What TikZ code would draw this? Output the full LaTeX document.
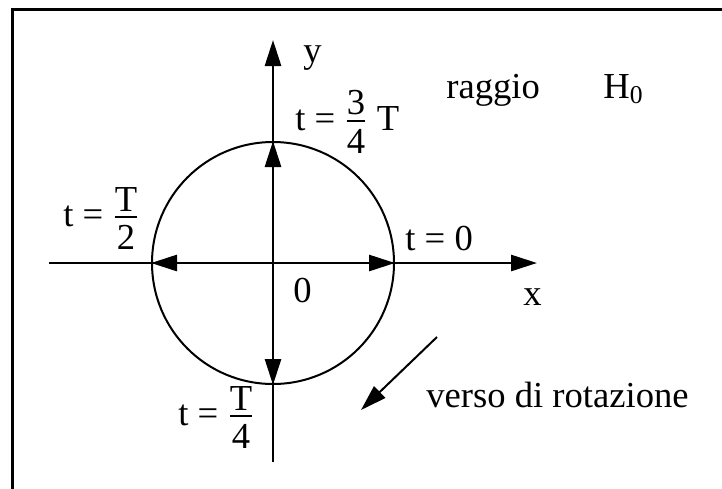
\documentclass[tikz,border=0pt]{standalone}
\usepackage{amsmath}
\usepackage{fontspec}
\setmainfont{Liberation Serif}
\usetikzlibrary{arrows.meta}
\newcommand{\myfrac}[2]{$\displaystyle\genfrac{}{}{0.9pt}{}{\mbox{\raisebox{-4.5pt}{#1}}}{\mbox{#2}}$}
\begin{document}
\begin{tikzpicture}[x=0.5pt,y=-0.5pt,
  lbl/.style={inner sep=0pt,anchor=base west,font=\fontsize{18.3}{21}\selectfont},
  axis/.style={line width=1.35pt},
  tip/.style={-{Triangle[length=13pt,width=8pt]}},
  ring/.style={draw,circle,line width=1pt,minimum size=121pt,inner sep=0pt}]
\useasboundingbox (0,0) rectangle (722,488);
\coordinate (fa) at (12.5,490);
\coordinate (fb) at (12.5,9);
\coordinate (fc) at (724,9);
\draw[line width=1.5pt] (fa) -- (fb) -- (fc);
% axes
\coordinate (O) at (273,263);
\coordinate (xs) at (49,263);
\coordinate (xe) at (537,263);
\coordinate (ys) at (273,462);
\coordinate (ye) at (273,40);
\node[ring] (c) at (O) {};
\draw[axis,tip] (xs) -- (xe);
\draw[axis,tip] (ys) -- (ye);
\draw[axis,tip] (O) -- (c.east);
\draw[axis,tip] (O) -- (c.west);
\draw[axis,tip] (O) -- (c.north);
\draw[axis,tip] (O) -- (c.south);
% rotation arrow
\coordinate (ra) at (437,337);
\coordinate (rb) at (361,410);
\draw[line width=1pt,tip] (ra) -- (rb);
% labels
\node[lbl] (ly) at (303,62) {y};
\node[lbl] (lr) at (446,98) {raggio};
\node[lbl] (lh) at (603,98) {H\textsubscript{0}};
\node[lbl] (l34) at (295,130) {t = \myfrac{3}{4} T};
\node[lbl] (l12) at (63,226) {t = \myfrac{T}{2}};
\node[lbl] (l0) at (405,250) {t = 0};
\node[lbl] (lo) at (293,302) {0};
\node[lbl] (lx) at (523,305) {x};
\node[lbl] (l14) at (178,425) {t = \myfrac{T}{4}};
\node[lbl] (lv) at (426,407) {verso di rotazione};
\end{tikzpicture}
\end{document}
